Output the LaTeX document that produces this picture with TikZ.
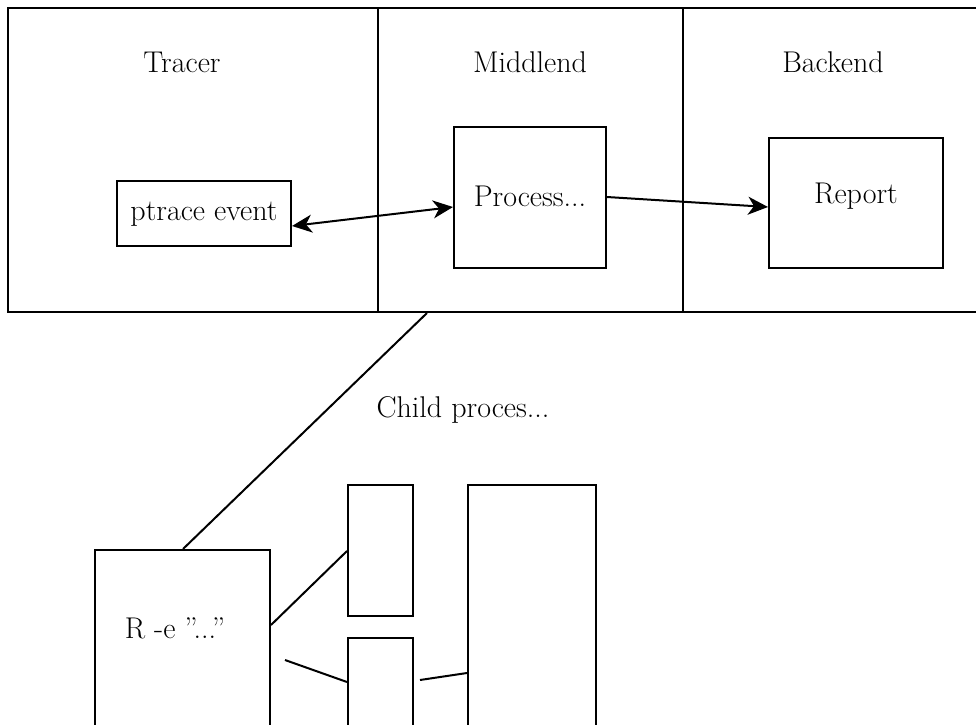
\documentclass[tikz,border=0pt]{standalone}
\usetikzlibrary{arrows.meta}
\begin{document}
\begin{tikzpicture}[x=0.5pt,y=-0.5pt,
  box/.style={draw, line width=1pt, inner sep=0pt},
  lbl/.style={font=\fontsize{15}{18}\selectfont, inner sep=0pt},
  link/.style={line width=1pt},
  tip/.tip={Stealth[length=10pt,width=9pt,inset=3pt]},
  arr/.style={line width=1pt, -tip},
  darr/.style={line width=1pt, tip-tip}]
\useasboundingbox (0,0) rectangle (976,724);
% three panels of the pipeline
\node[box, minimum width=185pt, minimum height=152pt] (tracer) at (193,160) {};
\node[box, minimum width=152.5pt, minimum height=152pt] (middlend) at (530.5,160) {};
\node[box, minimum width=150pt, minimum height=152pt] (backend) at (833,160) {};
\node[lbl] (ttracer) at (182,62) {Tracer};
\node[lbl] (tmiddlend) at (530,62) {Middlend};
\node[lbl] (tbackend) at (833,62) {Backend};
% inner boxes
\node[box, minimum width=87pt, minimum height=32.5pt] (ptrace) at (204,213.5) {};
\node[lbl] (tptrace) at (204,214) {ptrace event};
\node[box, minimum width=76pt, minimum height=70.5pt] (process) at (530,197.5) {};
\node[lbl] (tprocess) at (530,196) {Process...};
\node[box, minimum width=87pt, minimum height=65pt] (report) at (856,203) {};
\node[lbl] (treport) at (856,196) {Report};
\draw[darr] (ptrace.east |- 0,226) -- (process.west |- 0,207);
\draw[arr] (process.east |- 0,197) -- (report.west |- 0,207);
% child process detail
\node[lbl] (tchild) at (463,410) {Child proces...};
\node[box, minimum width=87.5pt, minimum height=120pt] (rproc) at (182.5,670) {};
\node[lbl] (trproc) at (175,628) {R -e ''...''};
\node[box, minimum width=32.5pt, minimum height=65.5pt] (sub1) at (380.5,550.5) {};
\node[box, minimum width=32.5pt, minimum height=70pt] (sub2) at (380.5,708) {};
\node[box, minimum width=64pt, minimum height=150pt] (big) at (532,635) {};
\coordinate (c1) at (285,660);
\coordinate (c2) at (420,680);
\draw[link] (middlend.south -| 427,0) -- (rproc.north -| 183,0);
\draw[link] (rproc.east |- 0,625) -- (sub1.west |- 0,551);
\draw[link] (c1) -- (sub2.west |- 0,682);
\draw[link] (c2) -- (big.west |- 0,673);
\end{tikzpicture}
\end{document}
